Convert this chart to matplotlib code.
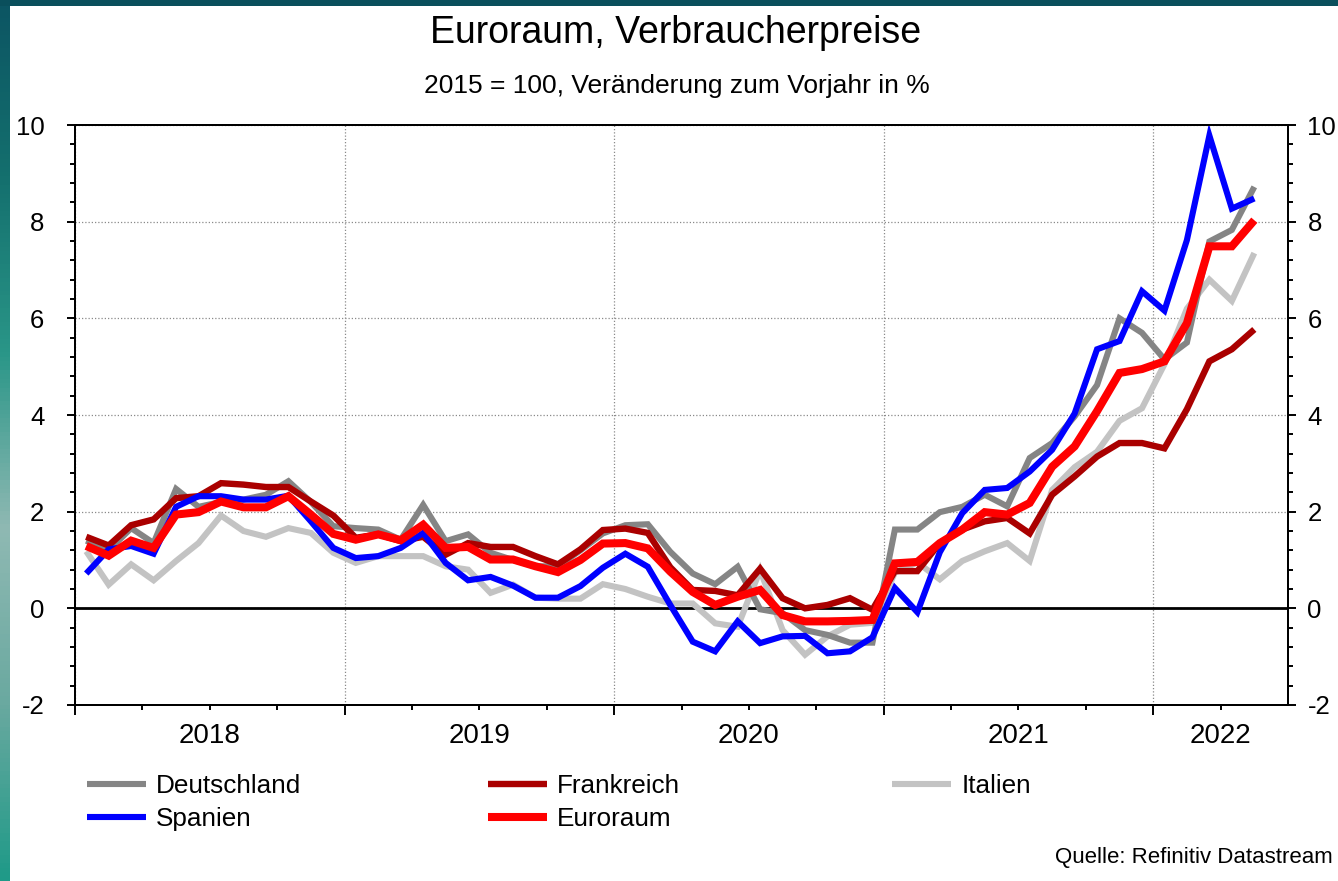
import numpy as np
import matplotlib
matplotlib.use('Agg')
import matplotlib.pyplot as plt
from matplotlib.patches import Rectangle
from matplotlib.colors import LinearSegmentedColormap

plt.rcParams['font.family'] = ['Liberation Sans', 'DejaVu Sans']

# monthly values, Jan 2018 .. May 2022 (yoy %)
deutschland = [1.4, 1.2, 1.66, 1.35, 2.47, 2.1, 2.2, 2.25, 2.35, 2.63, 2.2, 1.7,
               1.66, 1.63, 1.42, 2.14, 1.39, 1.53, 1.15, 1.0, 0.87, 0.87, 1.2, 1.55,
               1.72, 1.74, 1.17, 0.72, 0.5, 0.86, -0.02, -0.1, -0.45, -0.55, -0.71, -0.71,
               1.63, 1.63, 1.99, 2.1, 2.35, 2.11, 3.11, 3.42, 3.97, 4.62, 6.0, 5.7,
               5.15, 5.5, 7.59, 7.83, 8.72]
frankreich = [1.48, 1.3, 1.72, 1.84, 2.28, 2.32, 2.59, 2.56, 2.51, 2.51, 2.21, 1.92,
              1.46, 1.53, 1.39, 1.48, 1.11, 1.35, 1.27, 1.27, 1.08, 0.91, 1.22, 1.62,
              1.65, 1.56, 0.85, 0.38, 0.36, 0.27, 0.82, 0.21, 0.0, 0.07, 0.21, -0.03,
              0.77, 0.77, 1.35, 1.63, 1.8, 1.87, 1.55, 2.35, 2.73, 3.14, 3.42, 3.42,
              3.31, 4.12, 5.11, 5.36, 5.77]
italien = [1.18, 0.49, 0.91, 0.58, 0.98, 1.35, 1.92, 1.6, 1.48, 1.66, 1.56, 1.15,
           0.94, 1.08, 1.08, 1.08, 0.87, 0.8, 0.32, 0.49, 0.22, 0.2, 0.2, 0.5,
           0.4, 0.24, 0.1, 0.1, -0.31, -0.38, 0.79, -0.45, -0.96, -0.58, -0.34, -0.3,
           0.74, 0.95, 0.6, 0.98, 1.18, 1.35, 0.98, 2.45, 2.92, 3.24, 3.88, 4.14,
           5.05, 6.2, 6.8, 6.36, 7.35]
spanien = [0.72, 1.22, 1.29, 1.13, 2.1, 2.32, 2.32, 2.25, 2.25, 2.33, 1.8, 1.25,
           1.04, 1.08, 1.25, 1.56, 0.94, 0.58, 0.65, 0.47, 0.22, 0.22, 0.46, 0.84,
           1.13, 0.86, 0.07, -0.69, -0.89, -0.27, -0.72, -0.58, -0.57, -0.93, -0.89, -0.6,
           0.42, -0.08, 1.16, 1.97, 2.45, 2.49, 2.83, 3.28, 4.03, 5.36, 5.53, 6.56,
           6.16, 7.62, 9.78, 8.27, 8.48]
euroraum = [1.29, 1.09, 1.4, 1.25, 1.94, 1.99, 2.21, 2.09, 2.09, 2.32, 1.94, 1.54,
            1.42, 1.53, 1.41, 1.73, 1.25, 1.27, 1.01, 1.01, 0.87, 0.75, 1.0, 1.34,
            1.35, 1.24, 0.76, 0.34, 0.07, 0.24, 0.38, -0.14, -0.27, -0.27, -0.26, -0.24,
            0.93, 0.96, 1.35, 1.63, 1.99, 1.94, 2.18, 2.93, 3.35, 4.08, 4.87, 4.95,
            5.11, 5.9, 7.49, 7.49, 8.03]

years = ['2018', '2019', '2020', '2021', '2022']
year_centers = [6, 18, 30, 42, 51]

W, H = 1338, 881
fig = plt.figure(figsize=(W / 100, H / 100), dpi=100)

# teal frame bits of the slide background
strip = fig.add_axes([0, 0, 10 / W, 1])
grad = np.linspace(0, 1, 200).reshape(-1, 1)
teal = LinearSegmentedColormap.from_list('teal', ['#0c5563', '#14706e', '#2a9688', '#8fb9b3', '#6aa9a0', '#1f9a88'])
strip.imshow(grad, aspect='auto', cmap=teal, extent=[0, 1, 0, 1], origin='upper')
strip.axis('off')
fig.patches.append(Rectangle((0, 1 - 6 / H), 1, 6 / H, transform=fig.transFigure,
                             facecolor='#0a4f5c', edgecolor='none'))

ax = fig.add_axes([75 / W, 1 - 705 / H, (1288 - 75) / W, (705 - 125) / H])
x = np.arange(len(euroraum)) + 0.5

kw = dict(solid_joinstyle='miter', solid_capstyle='butt')
ax.plot(x, italien, color='#c3c3c3', lw=4.4, label='Italien', zorder=3, **kw)
ax.plot(x, deutschland, color='#858585', lw=4.4, label='Deutschland', zorder=4, **kw)
ax.plot(x, frankreich, color='#aa0000', lw=4.6, label='Frankreich', zorder=5, **kw)
ax.plot(x, spanien, color='#0000ff', lw=4.4, label='Spanien', zorder=6, **kw)
ax.plot(x, euroraum, color='#ff0000', lw=5.8, label='Euroraum', zorder=7, **kw)

ax.axhline(0, color='black', lw=2.0, zorder=2)

ax.set_xlim(0, 54)
ax.set_ylim(-2, 10)
ax.set_yticks(np.arange(-2, 10.1, 2))
ax.set_yticks(np.arange(-2, 10.01, 0.4), minor=True)
ax.set_xticks(np.arange(0, 54, 12))
ax.set_xticks(np.arange(0, 54, 3), minor=True)
ax.set_xticklabels([])
ax.set_yticklabels(['-2', '0', '2', '4', '6', '8', '10'])
ax.grid(True, which='major', color='#8a8a8a', linestyle=(0, (1, 1.6)), lw=0.9, zorder=1)
ax.set_axisbelow(True)

for s in ax.spines.values():
    s.set_linewidth(1.4)
ax.tick_params(axis='y', which='major', direction='out', length=6, width=1.4,
               labelsize=18.5, pad=16)
ax.tick_params(axis='y', which='minor', direction='out', length=3.6, width=1.4)
ax.tick_params(axis='x', which='major', direction='out', length=7, width=1.4)
ax.tick_params(axis='x', which='minor', direction='out', length=3.6, width=1.4)

ax2 = ax.twinx()
ax2.set_ylim(-2, 10)
ax2.set_yticks(np.arange(-2, 10.1, 2))
ax2.set_yticks(np.arange(-2, 10.01, 0.4), minor=True)
ax2.set_yticklabels(['-2', '0', '2', '4', '6', '8', '10'])
for s in ax2.spines.values():
    s.set_linewidth(1.4)
ax2.tick_params(axis='y', which='major', direction='out', length=6, width=1.4,
                labelsize=18.5, pad=8)
ax2.tick_params(axis='y', which='minor', direction='out', length=3.6, width=1.4)

for lab, pos in zip(years, year_centers):
    ax.annotate(lab, xy=(pos, 0), xycoords=('data', 'axes fraction'),
                xytext=(0, -13), textcoords='offset points',
                ha='center', va='top', fontsize=20)

fig.text(0.505, 1 - 33 / H, 'Euroraum, Verbraucherpreise', ha='center', va='center', fontsize=27)
fig.text(0.506, 1 - 86 / H, '2015 = 100, Veränderung zum Vorjahr in %', ha='center', va='center',
         fontsize=19)
fig.text(1333 / W, 1 - 858 / H, 'Quelle: Refinitiv Datastream', ha='right', va='center', fontsize=16)

# legend, three columns
handles = {l.get_label(): l for l in ax.get_lines()}
columns = [(['Deutschland', 'Spanien'], 87), (['Frankreich', 'Euroraum'], 488), (['Italien'], 892)]
for names, xpos in columns:
    leg = fig.legend([handles[n] for n in names], names, loc='upper left',
                     bbox_to_anchor=(xpos / W, 1 - 774 / H), frameon=False,
                     fontsize=18.8, handlelength=2.25, handletextpad=0.4,
                     labelspacing=0.34, borderpad=0, borderaxespad=0)

fig.savefig('out.png', dpi=100)
